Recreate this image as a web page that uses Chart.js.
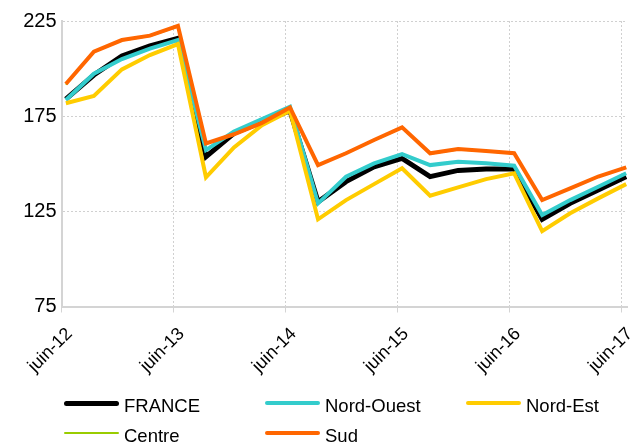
<!DOCTYPE html>
<html>
<head>
<meta charset="utf-8">
<script src="https://cdn.jsdelivr.net/npm/chart.js@4/dist/chart.umd.min.js"></script>
<style>
  body { margin: 0; background: #fff; }
  #wrap { position: relative; width: 631px; height: 444px; }
  #legend { position: absolute; left: 64px; top: 390px; font-family: "Liberation Sans", Arial, sans-serif; font-size: 18.5px; color: #000; }
  .item { position: absolute; height: 26px; display: flex; align-items: center; white-space: nowrap; }
  .item span.line { display: inline-block; width: 55px; margin-right: 5px; border-radius: 3px; }
  .item span.txt { position: relative; top: 3px; }
</style>
</head>
<body>
<div id="wrap">
  <canvas id="chart"></canvas>
  <div id="legend"></div>
</div>
<script>
// quarterly dates (mid-month) and tick labels
const dates = ['2012-06-15','2012-09-15','2012-12-15','2013-03-15','2013-06-15','2013-09-15','2013-12-15',
  '2014-03-15','2014-06-15','2014-09-15','2014-12-15','2015-03-15','2015-06-15','2015-09-15','2015-12-15',
  '2016-03-15','2016-06-15','2016-09-15','2016-12-15','2017-03-15','2017-06-15'];
const tickLabels = ['juin-12','juin-13','juin-14','juin-15','juin-16','juin-17'];
const yTicks = [75, 125, 175, 225];

const france = [183.9, 196.6, 206.6, 211.9, 215.9, 153.7, 166, 172, 177.9, 130, 140.6, 148.4, 152.8, 143.2, 146.5, 147.2, 147.2, 120.8, 129.2, 136.2, 143.2];
const nordOuest = [183.5, 197.3, 205, 210.5, 215, 157.2, 166.9, 173.5, 180, 129.2, 143.2, 150.2, 155.1, 149.3, 151.1, 150.2, 149, 123.1, 130.9, 137.9, 145];
const nordEst = [181.8, 185.6, 199.6, 207.1, 212.9, 142.9, 158.6, 170.3, 177.9, 120.8, 130.9, 139.3, 147.6, 133.2, 137.6, 141.9, 145, 114.6, 124, 131.8, 139.3];
const centre = [191.5, 208.5, 214.6, 217, 222, 160.3, 165.5, 171.5, 179.3, 149, 156, 162.2, 168.8, 155.2, 157.4, 156.4, 155.2, 130.6, 136.8, 143, 147.8];
const sud = [191.9, 208.9, 215, 217.3, 222.5, 160.7, 165.5, 171.5, 179.6, 149.3, 155.5, 162.5, 169.1, 155.5, 157.7, 156.7, 155.5, 130.9, 137.1, 143.3, 148.1];

// months since june 2012
function toMonths(d) {
  const [y, m, day] = d.split('-').map(Number);
  return (y - 2012) * 12 + (m - 6) + (day - 1) / 30;
}
const xs = dates.map(toMonths);
const pts = arr => arr.map((v, i) => ({x: xs[i], y: v}));

const series = [
  {label: 'FRANCE', data: france, color: '#000000', width: 5, order: 5},
  {label: 'Nord-Ouest', data: nordOuest, color: '#33CCCC', width: 4, order: 4},
  {label: 'Nord-Est', data: nordEst, color: '#FFCC00', width: 4, order: 3},
  {label: 'Centre', data: centre, color: '#99CC00', width: 1.5, order: 2},
  {label: 'Sud', data: sud, color: '#FF6600', width: 4, order: 1}
];

Chart.defaults.font.family = '"Liberation Sans", Arial, sans-serif';
Chart.defaults.color = '#000';

const ctx = document.getElementById('chart').getContext('2d');
new Chart(ctx, {
  type: 'line',
  data: {
    datasets: series.map(s => ({
      label: s.label,
      data: pts(s.data),
      borderColor: s.color,
      backgroundColor: s.color,
      borderWidth: s.width,
      pointRadius: 0,
      tension: 0,
      order: s.order
    }))
  },
  options: {
    responsive: true,
    maintainAspectRatio: false,
    animation: false,
    layout: { padding: { top: 21, right: 4, left: 0, bottom: 0 } },
    plugins: { legend: { display: false }, tooltip: { enabled: false } },
    scales: {
      x: {
        type: 'linear',
        min: 0,
        max: 60.55,
        afterBuildTicks: scale => { scale.ticks = tickLabels.map((t, i) => ({value: i * 12})); },
        afterFit: scale => { scale.height = 137.5; scale.paddingLeft = 0; scale.paddingRight = 0; },
        grid: { color: '#d0d0d0', lineWidth: 1, drawTicks: true, tickLength: 6, tickColor: '#d4d4d4' },
        border: { color: '#d4d4d4', width: 2, dash: [2, 2] },
        ticks: {
          minRotation: 45,
          maxRotation: 45,
          autoSkip: false,
          labelOffset: 8,
          padding: 11,
          font: { size: 18 },
          callback: (v, i) => tickLabels[i]
        }
      },
      y: {
        min: 75,
        max: 225,
        afterBuildTicks: scale => { scale.ticks = yTicks.map(v => ({value: v})); },
        afterFit: scale => { scale.width = 61.5; },
        grid: { color: '#d0d0d0', lineWidth: 1, drawTicks: false },
        border: { color: '#d4d4d4', width: 2, dash: [2, 2] },
        ticks: { padding: 5, font: { size: 20 } }
      }
    }
  }
});

// legend laid out in columns like the original
const legend = document.getElementById('legend');
series.forEach((s, i) => {
  const item = document.createElement('div');
  item.className = 'item';
  item.style.left = (i % 3) * 201 + 'px';
  item.style.top = Math.floor(i / 3) * 30 + 'px';
  const line = document.createElement('span');
  line.className = 'line';
  line.style.height = s.width + 'px';
  line.style.background = s.color;
  const txt = document.createElement('span');
  txt.className = 'txt';
  txt.textContent = s.label;
  item.append(line, txt);
  legend.append(item);
});
</script>
</body>
</html>
